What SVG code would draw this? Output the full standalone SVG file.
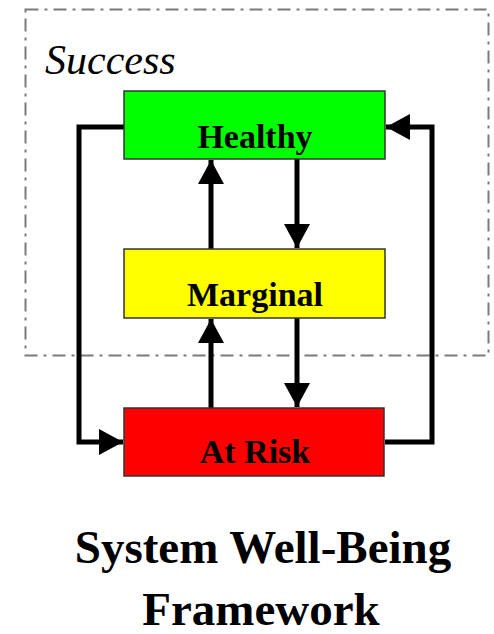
<svg xmlns="http://www.w3.org/2000/svg" width="494" height="634" viewBox="0 0 494 634">
<style>
.node rect{stroke:#333;stroke-width:1.5}
.lbl{font-family:"Liberation Serif","Times New Roman",serif;font-weight:bold;font-size:34px;text-anchor:middle;fill:#000}
.title{font-family:"Liberation Serif","Times New Roman",serif;font-weight:bold;font-size:47px;text-anchor:middle;fill:#000}
.conn{fill:none;stroke:#000;stroke-width:5}
</style>
<defs>
<marker id="ah" viewBox="0 0 24 26" refX="24" refY="13" markerWidth="24" markerHeight="26" markerUnits="userSpaceOnUse" orient="auto">
<path d="M0,0 L24,13 L0,26 Z" fill="#000"/>
</marker>
</defs>
<rect id="success-zone" x="25.5" y="9.5" width="463" height="346" fill="none" stroke="#7a7a7a" stroke-width="2" stroke-dasharray="13,6,3,6"/>
<text x="45" y="74" font-family="Liberation Serif, Times New Roman, serif" font-style="italic" font-size="42" fill="#000">Success</text>
<g id="connectors">
<path class="conn" d="M124,127 H79 V442 H123" marker-end="url(#ah)"/>
<path class="conn" d="M385,442 H432 V127 H386" marker-end="url(#ah)"/>
<path class="conn" d="M211,249 V160" marker-end="url(#ah)"/>
<path class="conn" d="M297,159 V248" marker-end="url(#ah)"/>
<path class="conn" d="M211,408 V319" marker-end="url(#ah)"/>
<path class="conn" d="M297,318 V407" marker-end="url(#ah)"/>
</g>
<g id="healthy" class="node">
<rect x="124" y="91" width="261" height="68" fill="#00ff00"/>
<text class="lbl" x="255" y="148">Healthy</text>
</g>
<g id="marginal" class="node">
<rect x="124" y="249" width="261" height="69" fill="#ffff00"/>
<text class="lbl" x="255" y="306">Marginal</text>
</g>
<g id="at-risk" class="node">
<rect x="124" y="408" width="260" height="68" fill="#ff0000"/>
<text class="lbl" x="255" y="463">At Risk</text>
</g>
<text class="title" x="263" y="563">System Well-Being</text>
<text class="title" x="261" y="625">Framework</text>
</svg>
